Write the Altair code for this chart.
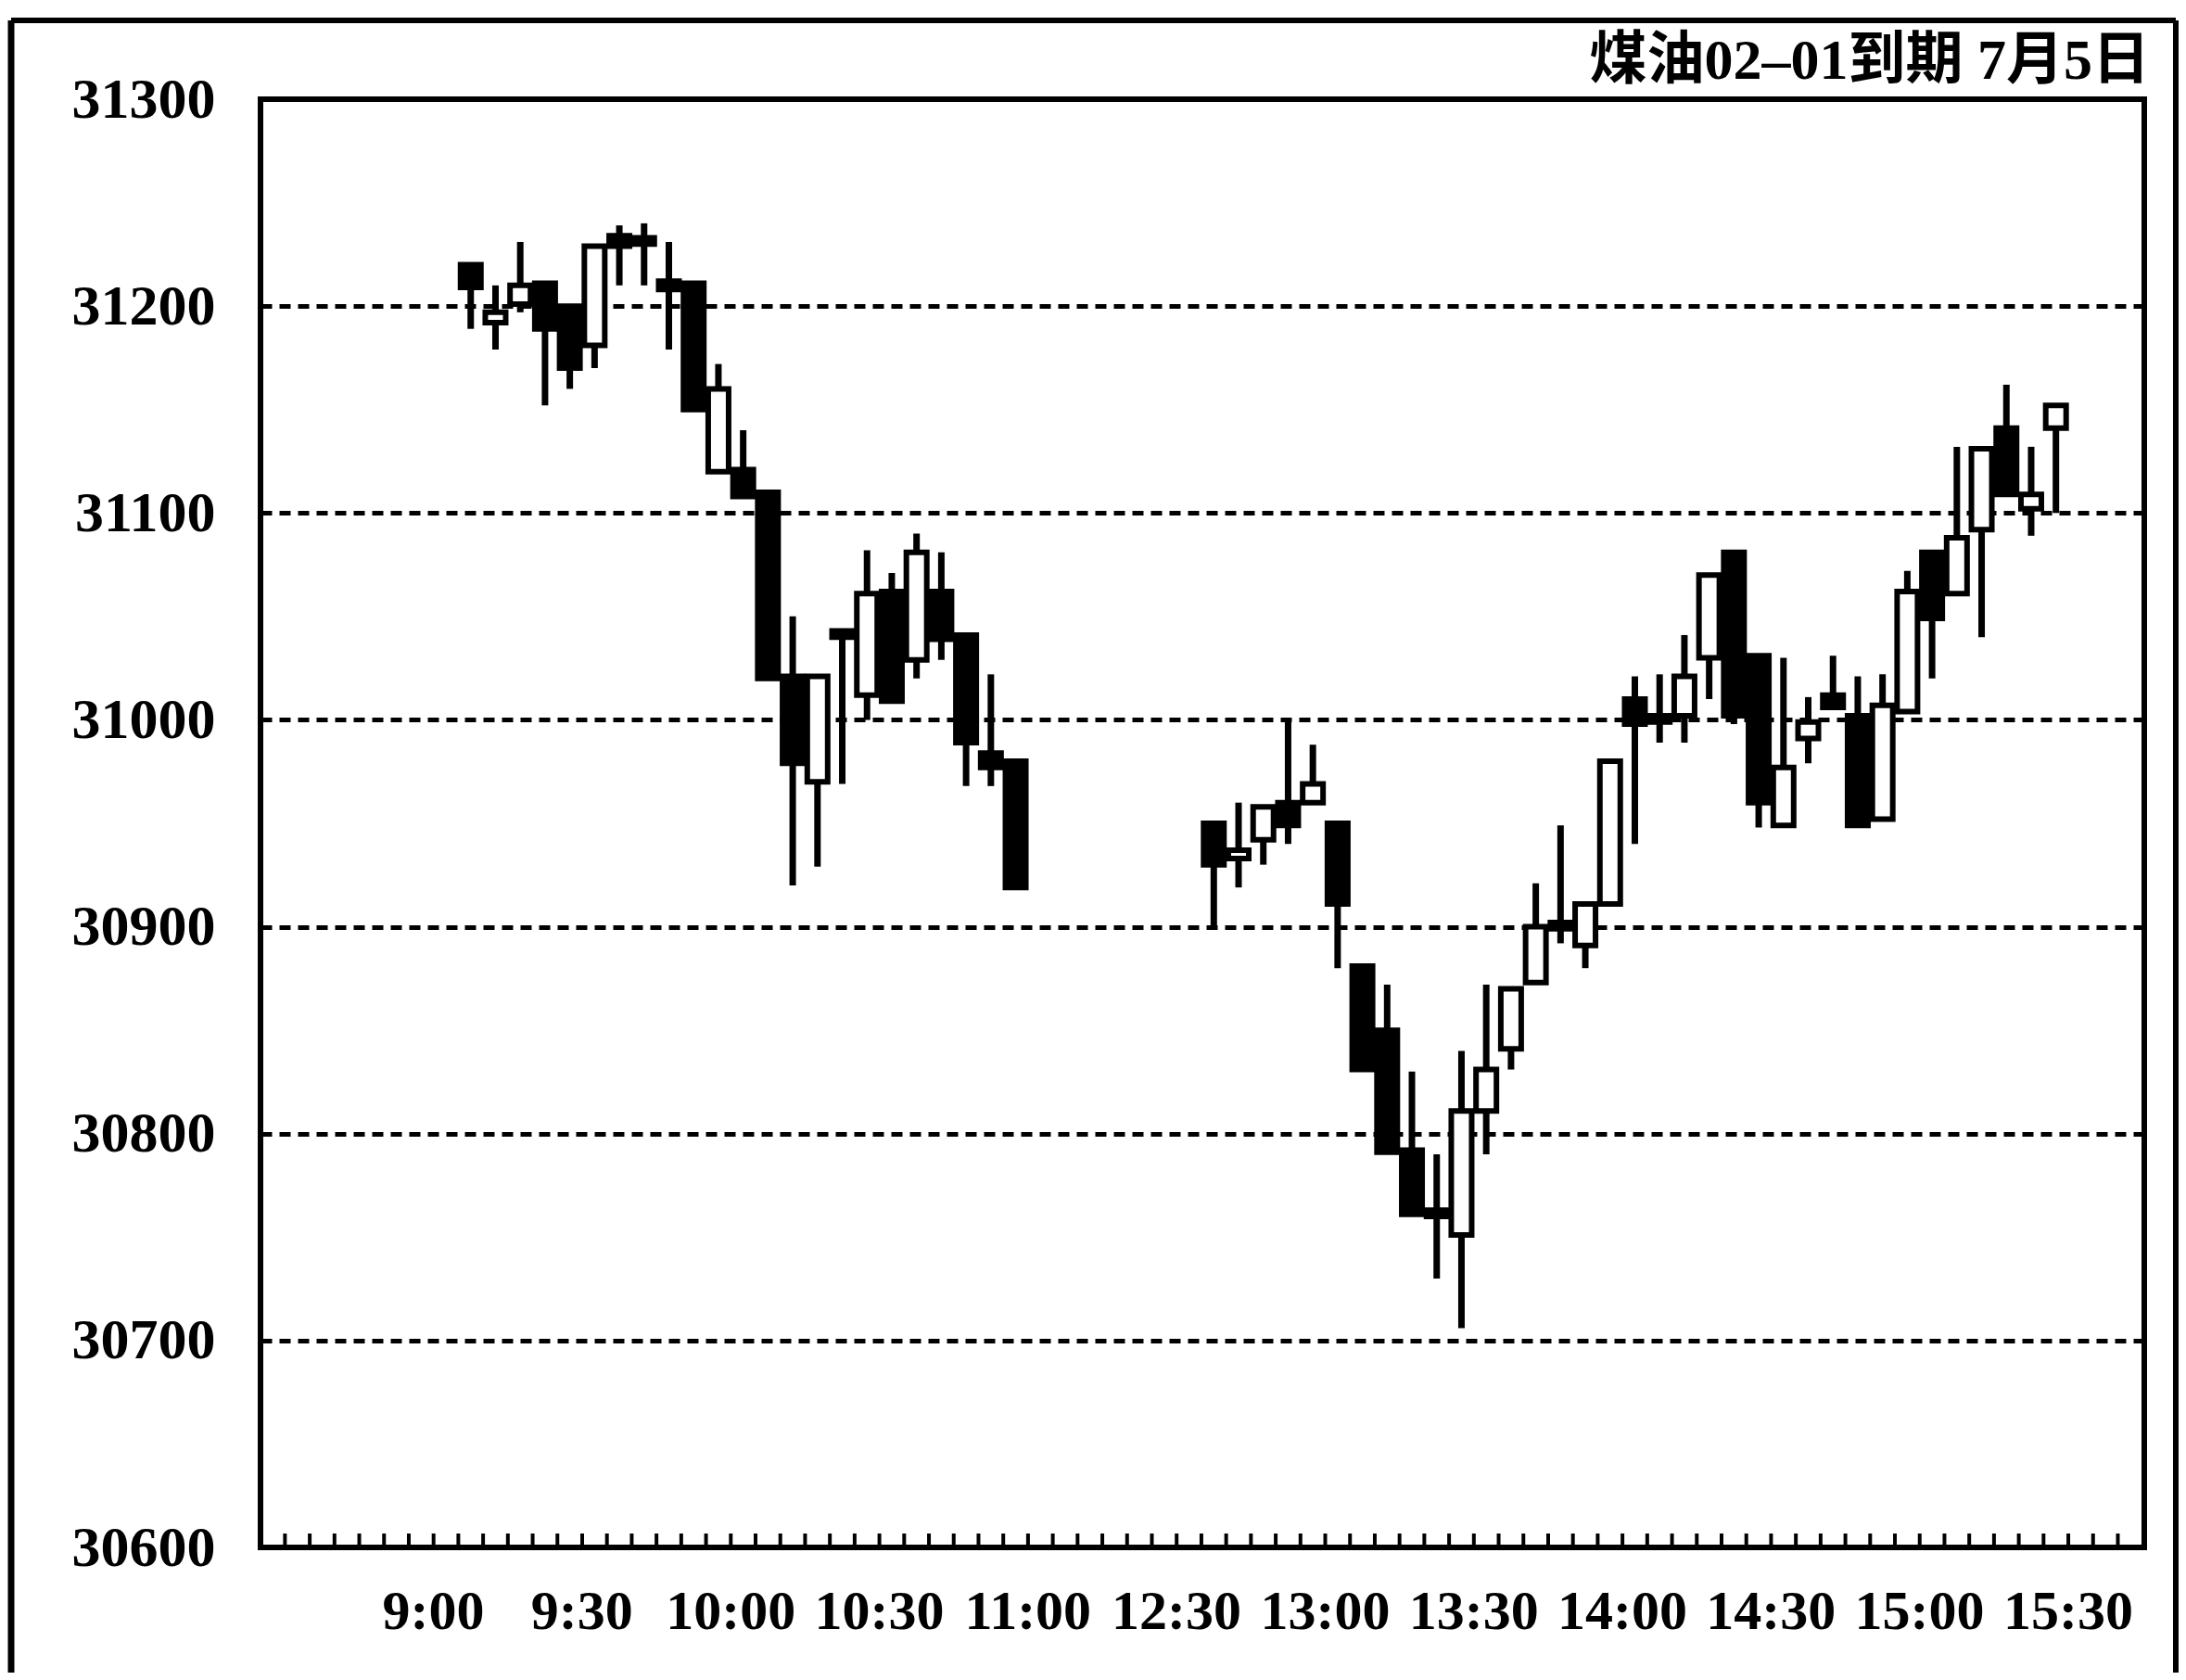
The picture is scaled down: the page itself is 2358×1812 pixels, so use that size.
import altair as alt
import pandas as pd

# ---- data (5-minute bars, time = end of bar) ----
times = ["9:05", "9:10", "9:15", "9:20", "9:25", "9:30", "9:35", "9:40", "9:45", "9:50",
         "9:55", "10:00", "10:05", "10:10", "10:15", "10:20", "10:25", "10:30", "10:35",
         "10:40", "10:45", "10:50", "10:55",
         "12:35", "12:40", "12:45", "12:50", "12:55", "13:00", "13:05", "13:10", "13:15",
         "13:20", "13:25", "13:30", "13:35", "13:40", "13:45", "13:50", "13:55", "14:00",
         "14:05", "14:10", "14:15", "14:20", "14:25", "14:30", "14:35", "14:40", "14:45",
         "14:50", "14:55", "15:00", "15:05", "15:10", "15:15", "15:20", "15:25"]
opens = [31220, 31192, 31201, 31211, 31200, 31181, 31234, 31233, 31212, 31211,
         31120, 31121, 31110, 31021, 30970, 31043, 31012, 31062, 31029,
         31062, 31041, 30984, 30980,
         30950, 30933, 30942, 30960, 30960, 30950, 30881, 30850, 30792,
         30763, 30751, 30811, 30841, 30873, 30902, 30891, 30911, 31010,
         31002, 31002, 31030, 31081, 31031, 30949, 30991, 31012, 31002,
         30952, 31004, 31081, 31061, 31092, 31141, 31102, 31141]
highs = [31221, 31210, 31231, 31211, 31201, 31229, 31239, 31240, 31231, 31211,
         31172, 31140, 31110, 31050, 31021, 31043, 31082, 31071, 31090,
         31081, 31041, 31022, 30981,
         30950, 30960, 30958, 30999, 30988, 30950, 30881, 30872, 30830,
         30790, 30840, 30872, 30871, 30921, 30949, 30911, 30980, 31021,
         31022, 31041, 31070, 31082, 31031, 31030, 31011, 31031, 31021,
         31022, 31072, 31081, 31132, 31131, 31162, 31132, 31152]
lows = [31189, 31179, 31197, 31152, 31160, 31170, 31210, 31210, 31179, 31150,
        31120, 31108, 31020, 30920, 30929, 30969, 31000, 31009, 31020,
        31029, 30968, 30968, 30919,
        30900, 30919, 30930, 30940, 30960, 30880, 30831, 30791, 30761,
        30730, 30706, 30790, 30831, 30873, 30892, 30880, 30911, 30940,
        30989, 30989, 31010, 30998, 30948, 30949, 30979, 31006, 30949,
        30952, 31004, 31020, 31061, 31040, 31109, 31089, 31100]
closes = [31209, 31197, 31210, 31189, 31170, 31229, 31229, 31230, 31208, 31150,
          31160, 31108, 31020, 30979, 31021, 31040, 31061, 31009, 31081,
          31039, 30989, 30977, 30919,
          30930, 30937, 30958, 30949, 30969, 30911, 30831, 30791, 30761,
          30760, 30811, 30831, 30870, 30900, 30899, 30911, 30980, 30998,
          30999, 31021, 31070, 31002, 30960, 30977, 30999, 31006, 30949,
          31007, 31062, 31049, 31088, 31131, 31109, 31109, 31152]

y_ticks = [30600, 30700, 30800, 30900, 31000, 31100, 31200, 31300]
x_labels = ["9:00", "9:30", "10:00", "10:30", "11:00", "12:30", "13:00",
            "13:30", "14:00", "14:30", "15:00", "15:30"]
title_text = "煤油02–01到期 7月5日"


def slot(t):
    """Position on the session axis in 5-minute steps (lunch shown as 30 min)."""
    h, m = map(int, t.split(":"))
    mins = h * 60 + m - 9 * 60
    if mins > 120:
        mins -= 60
    return mins / 5


df = pd.DataFrame({"time": times, "open": opens, "high": highs,
                   "low": lows, "close": closes})
df["p"] = [slot(t) for t in times]

label_pos = [slot(t) for t in x_labels]
label_expr = "[" + ",".join("'%s'" % s for s in x_labels) + "][round(datum.value/6)]"

tick_df = pd.DataFrame({"tp": [k + 0.5 for k in range(-7, 68)]})

W, H = 2032, 1562
FONT = "Liberation Serif"

xscale = alt.Scale(domain=[-7.3, 68.38], nice=False, zero=False)
yscale = alt.Scale(domain=[30600, 31300], nice=False, zero=False)

xaxis = alt.Axis(values=label_pos, labelExpr=label_expr, ticks=False, tickSize=0,
                 domain=False, grid=False, title=None, labelFont=FONT,
                 labelFontSize=60, labelFontWeight="bold", labelColor="black",
                 labelOffset=-14, labelPadding=40, labelOverlap=False, labelFlush=False)
yaxis = alt.Axis(values=y_ticks, format="d", ticks=False, tickSize=0, domain=False,
                 grid=True, gridColor="black", gridDash=[12, 8], gridWidth=5,
                 gridOpacity=1, title=None, labelFont=FONT, labelFontSize=62,
                 labelFontWeight="bold", labelColor="black", labelPadding=49,
                 labelFlush=False, labelOverlap=False)

base = alt.Chart(df).encode(x=alt.X("p:Q", scale=xscale, axis=xaxis))

wicks = base.mark_rule(color="black", strokeWidth=7).encode(
    y=alt.Y("low:Q", scale=yscale, axis=yaxis),
    y2="high:Q",
)

bodies = base.mark_bar(size=22, stroke="black", strokeWidth=6).encode(
    y=alt.Y("open:Q", scale=yscale),
    y2="close:Q",
    fill=alt.condition("datum.close >= datum.open", alt.value("white"), alt.value("black")),
)

minor_ticks = alt.Chart(tick_df).mark_rule(color="black", strokeWidth=4).encode(
    x=alt.X("tp:Q", scale=xscale),
    y=alt.value(H),
    y2=alt.value(H - 15),
)

one = pd.DataFrame({"a": [0]})
border_left = alt.Chart(one).mark_rule(color="black", strokeWidth=7).encode(
    x=alt.value(-269), y=alt.value(-85), y2=alt.value(H + 135))
border_right = alt.Chart(one).mark_rule(color="black", strokeWidth=6).encode(
    x=alt.value(2066), y=alt.value(-85), y2=alt.value(H + 135))
border_top = alt.Chart(one).mark_rule(color="black", strokeWidth=6).encode(
    x=alt.value(-269), x2=alt.value(2066), y=alt.value(-85))

title_mark = alt.Chart(one).mark_text(
    text=title_text, align="right", baseline="alphabetic",
    font="Liberation Serif, Noto Sans CJK SC", fontSize=62, fontWeight="bold",
    color="black",
).encode(x=alt.value(W + 6), y=alt.value(-22))

chart = alt.layer(wicks, bodies, minor_ticks, border_left, border_right, border_top,
                  title_mark).properties(
    width=W,
    height=H,
    autosize=alt.AutoSizeParams(type="none"),
    padding={"left": 273, "top": 99, "right": 37, "bottom": 135},
    background="white",
).configure_view(stroke="black", strokeWidth=6)

chart.save("out.html", embed_options={"renderer": "svg", "actions": False})
